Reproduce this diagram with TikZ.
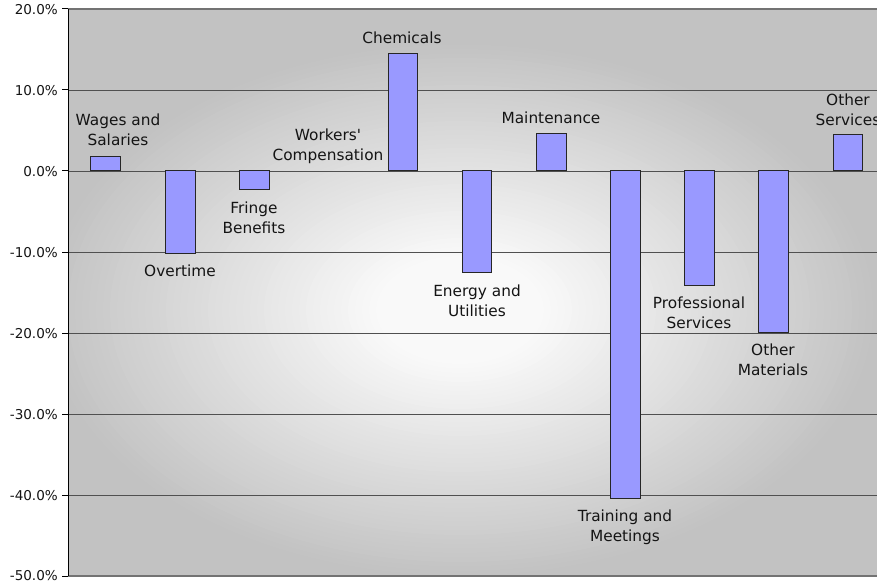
\documentclass[tikz,border=0pt]{standalone}
\usepackage{fontspec}
\newfontfamily\chartfont{DejaVu Sans}
\definecolor{barblue}{HTML}{9999FF}
\definecolor{bgin}{HTML}{F9F9F9}
\definecolor{bgout}{HTML}{C2C2C2}
\definecolor{gridc}{HTML}{505050}
\begin{document}
\begin{tikzpicture}[x=1bp,y=-1bp,
  bar/.style={draw=black!85, fill=barblue, line width=1bp},
  gridline/.style={draw=gridc, line width=0.9bp},
  lab/.style={font=\chartfont\fontsize{15.4}{20.5}\selectfont, align=center, text=black!92, inner sep=0pt},
  axlab/.style={font=\chartfont\fontsize{13.6}{16}\selectfont, anchor=east, text=black!92, inner sep=0pt}]
\useasboundingbox (0,0) rectangle (877,583);
% background gradient (stacked ellipses)
\begin{scope}
  \clip (68,9) rectangle (877,576);
  \fill[bgout] (68,9) rectangle (877,576);
  \foreach \i in {0,...,59}{
    \pgfmathsetmacro\rr{1-\i/60}
    \pgfmathsetmacro\pp{min(100,100*(1-\rr)/0.8)}
    \fill[bgin!\pp!bgout] (460,310) ellipse [x radius=420*\rr, y radius=270*\rr];
  }
\end{scope}
% grid lines
\foreach \k in {1,...,6}{
  \draw[gridline] (68,9+81*\k) -- (877,9+81*\k);
}
\draw[draw=black!55, line width=1.4bp] (68,9) -- (877,9);
\draw[draw=black!55, line width=1.4bp] (68,576) -- (877,576);
% axis and ticks
\draw[black, line width=1bp] (68,9) -- (68,576);
\foreach \k in {0,...,7}{
  \draw[black, line width=1bp] (62,9+81*\k) -- (68,9+81*\k);
}
% axis labels
\node[axlab] (a0) at (58,10) {20.0\%};
\node[axlab] (a1) at (58,91) {10.0\%};
\node[axlab] (a2) at (58,172) {0.0\%};
\node[axlab] (a3) at (58,253) {-10.0\%};
\node[axlab] (a4) at (58,334) {-20.0\%};
\node[axlab] (a5) at (58,415) {-30.0\%};
\node[axlab] (a6) at (58,496) {-40.0\%};
\node[axlab] (a7) at (58,576) {-50.0\%};
% bars
\draw[bar] (90,171) rectangle (120,157);
\draw[bar] (165,171) rectangle (195,253);
\draw[bar] (239,171) rectangle (269,190);
\draw[bar] (388,171) rectangle (417,53.5);
\draw[bar] (462,171) rectangle (491,272.5);
\draw[bar] (536,171) rectangle (566,133.5);
\draw[bar] (610,171) rectangle (640,498);
\draw[bar] (684,171) rectangle (714,285);
\draw[bar] (758,171) rectangle (788,332);
\draw[bar] (833,171) rectangle (862,135);
% labels
\node[lab] (l1) at (118,130) {Wages and\\Salaries};
\node[lab] (l2) at (180,271) {Overtime};
\node[lab] (l3) at (254,218) {Fringe\\Benefits};
\node[lab] (l4) at (328,146) {Workers'\\Compensation};
\node[lab] (l5) at (402,38) {Chemicals};
\node[lab] (l6) at (477,301) {Energy and\\Utilities};
\node[lab] (l7) at (551,118) {Maintenance};
\node[lab] (l8) at (625,527) {Training and\\Meetings};
\node[lab] (l9) at (699,313) {Professional\\Services};
\node[lab] (l10) at (773,360) {Other\\Materials};
\node[lab] (l11) at (848,110) {Other\\Services};
\end{tikzpicture}
\end{document}
